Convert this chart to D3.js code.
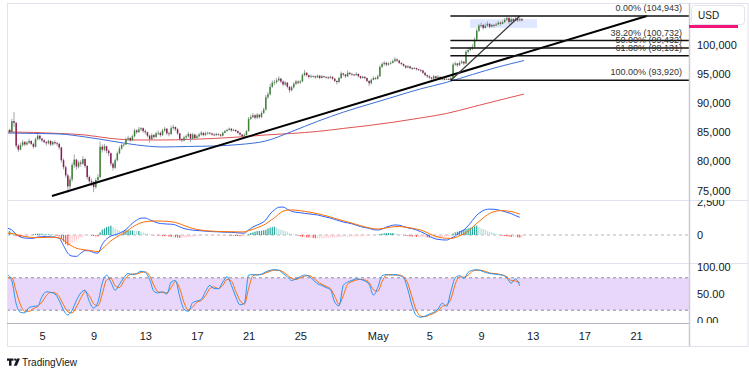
<!DOCTYPE html>
<html>
<head>
<meta charset="utf-8">
<script src="https://cdn.jsdelivr.net/npm/d3@7"></script>
<style>
  body { margin: 0; background: #fff; }
  svg { display: block; font-family: "Liberation Sans", Arial, sans-serif; }
</style>
</head>
<body>
<script>
// ---- data (BTC/USD 4H), prices in thousands ----
var startTime = Date.UTC(2025, 3, 2, 8), barHours = 4;
var firstOpen = 85.2;
var closes = [
  85.4,85.0,86.9,86.6,
  82.7,82.0,82.8,83.3,82.9,83.2,  83.5,83.0,82.5,83.8,84.4,83.9,  83.6,83.3,83.1,83.5,82.9,83.3,
  83.1,83.0,82.4,80.2,79.0,77.6,  75.7,76.9,79.4,80.3,79.1,79.8,  79.6,80.4,79.2,77.3,76.6,76.4,
  75.6,76.8,77.3,82.5,82.0,82.6,  81.8,81.4,79.6,78.9,80.2,81.4,  82.2,82.8,82.9,83.8,84.0,83.6,
  84.3,85.3,85.0,85.5,85.7,85.2,  85.0,84.4,83.8,84.5,84.2,84.8,  84.9,84.5,85.3,85.6,84.8,84.7,
  85.7,85.9,85.5,84.8,83.8,83.6,  84.1,84.3,84.7,83.9,84.6,84.0,  84.3,84.6,84.9,84.5,84.8,84.9,
  84.8,84.6,84.5,84.7,84.6,84.4,  84.9,85.2,85.4,85.6,85.3,85.4,  85.2,84.9,84.6,84.3,84.5,85.2,
  87.3,87.6,87.9,87.5,88.0,87.6,  88.3,88.9,91.0,91.5,92.8,93.5,  93.6,93.9,94.2,93.7,93.2,93.5,
  92.8,92.2,92.7,93.3,93.7,93.5,  93.7,94.8,95.2,94.8,94.5,94.6,  94.6,94.4,94.7,94.3,94.6,94.5,
  94.4,94.3,94.5,94.2,93.8,93.6,  94.3,95.1,94.9,94.6,95.2,95.0,  94.9,94.8,95.0,94.6,94.3,94.5,
  94.3,93.8,93.4,94.0,94.3,94.2,  94.6,96.2,96.7,96.9,96.6,96.8,  96.9,97.2,97.5,97.3,96.9,96.7,
  96.4,96.1,96.3,96.0,95.9,96.0,  95.8,95.7,95.6,95.2,94.8,94.6,  94.4,94.2,94.6,94.3,94.5,94.1,
  94.2,94.0,94.1,94.0,94.3,96.6,  96.8,96.5,96.9,97.1,96.8,98.8,  99.1,99.4,99.6,100.9,102.4,103.3,
  103.4,102.9,103.3,103.6,103.1,103.4,  103.3,103.5,103.8,103.6,103.9,104.3,  104.6,103.9,104.4,104.1,104.5,104.2,
  104.4,104.2
];
var highs = [
  85.8,85.6,87.3,88.5,
  86.8,83.0,83.2,83.7,83.5,83.5,  83.9,83.6,83.2,84.1,84.7,84.5,  84.0,83.8,83.5,83.7,83.6,83.5,
  83.6,83.4,83.2,82.5,80.5,79.3,  77.9,77.4,79.8,81.2,80.4,80.1,  80.2,80.9,80.5,79.4,77.6,77.0,
  76.6,77.1,77.8,83.4,82.9,83.0,  82.7,82.1,81.5,79.8,80.5,81.7,  82.6,83.1,83.3,84.1,84.4,84.2,
  84.6,85.6,85.5,85.9,85.9,85.8,  85.5,85.1,84.6,84.8,84.7,85.1,  85.3,85.1,85.6,85.9,85.7,85.1,
  86.1,86.3,86.0,85.7,84.9,84.0,  84.4,84.6,85.1,84.8,84.9,84.7,  84.6,84.9,85.2,85.0,85.1,85.1,
  85.0,84.9,84.8,84.9,84.8,84.7,  85.1,85.4,85.6,85.8,85.7,85.6,  85.5,85.3,85.0,84.7,84.8,85.4,
  87.6,88.0,88.3,88.1,88.3,88.1,  88.6,89.2,91.4,91.9,93.3,93.9,  94.0,94.3,94.6,94.3,93.9,93.8,
  93.6,92.9,93.0,93.6,94.0,93.9,  94.0,95.1,95.7,95.3,94.9,94.9,  94.8,94.7,94.9,94.8,94.8,94.7,
  94.6,94.6,94.7,94.6,94.3,93.9,  94.5,95.4,95.2,95.0,95.6,95.3,  95.2,95.0,95.3,95.1,94.7,94.7,
  94.6,94.4,93.9,94.2,94.6,94.5,  94.9,96.5,97.0,97.2,97.1,97.0,  97.2,97.5,97.9,97.7,97.4,97.0,
  96.8,96.5,96.5,96.4,96.2,96.2,  96.1,95.9,95.8,95.7,95.3,94.9,  94.8,94.5,94.8,94.7,94.8,94.6,
  94.4,94.3,94.3,94.3,94.5,96.9,  97.1,96.9,97.2,97.4,97.2,99.1,  99.5,99.7,100.1,101.3,102.8,103.6,
  103.8,103.6,103.7,104.0,103.7,103.6,  103.6,103.8,104.1,104.0,104.2,104.6,  104.943,104.8,104.7,104.6,104.8,104.6,
  104.7,104.6
];
var lows = [
  84.9,84.7,84.9,85.9,
  82.3,81.6,81.9,82.5,82.6,82.7,  83.0,82.8,82.2,82.4,83.6,83.6,  83.3,83.1,82.7,82.9,82.6,82.7,
  82.9,82.6,82.0,79.8,78.6,77.2,  74.6,75.2,76.5,78.9,78.6,78.8,  79.1,79.4,78.9,76.9,76.2,75.8,
  74.7,75.3,76.4,77.1,81.5,81.7,  81.4,80.9,79.2,78.4,78.7,80.0,  81.2,82.0,82.5,82.8,83.5,83.3,
  83.5,84.1,84.7,84.9,85.2,84.9,  84.6,84.1,83.2,83.6,83.9,84.0,  84.5,84.2,84.4,85.0,84.5,84.3,
  84.5,85.4,85.2,84.5,83.5,83.3,  83.4,83.8,84.1,83.3,83.7,83.8,  83.9,84.1,84.4,84.3,84.4,84.6,
  84.6,84.4,84.3,84.4,84.4,84.2,  84.3,84.8,85.1,85.3,85.1,85.2,  85.0,84.7,84.4,83.9,84.1,84.4,
  85.1,87.1,87.4,87.2,87.3,87.3,  87.4,88.1,88.7,90.7,91.3,92.6,  93.1,93.3,93.7,93.4,92.9,93.0,
  92.5,91.8,92.0,92.5,93.1,93.2,  93.3,93.6,94.6,94.5,94.2,94.3,  94.4,94.2,94.3,94.1,94.2,94.3,
  94.2,94.1,94.2,94.0,93.6,93.2,  93.5,94.1,94.6,94.3,94.5,94.8,  94.7,94.6,94.7,94.4,94.1,94.2,
  94.1,93.6,92.9,93.2,93.9,94.0,  94.0,94.5,96.0,96.4,96.3,96.4,  96.6,96.8,97.0,97.0,96.7,96.5,
  96.2,95.9,96.0,95.8,95.7,95.8,  95.6,95.5,95.3,95.0,94.6,94.3,  94.1,94.0,94.0,94.1,94.2,93.95,
  93.9,93.92,93.95,93.92,93.95,94.2,  96.4,96.2,96.4,96.7,96.5,96.7,  98.5,98.9,99.1,99.5,100.8,102.2,
  103.0,102.6,102.8,103.1,102.8,103.0,  103.0,103.2,103.3,103.3,103.5,103.7,  104.1,103.6,103.8,103.8,104.0,103.9,
  104.0,104.0
];

// moving averages, one value every 12 bars (thousands)
var maStep = 12;
var maBlue = [84.87,84.79,84.70,84.19,83.50,82.82,82.47,82.56,82.64,82.90,83.50,85.11,86.86,88.44,89.80,91.13,92.45,93.55,94.90,96.20,97.30];
var maRed  = [85.05,84.96,84.79,84.53,83.93,83.67,83.67,83.76,83.93,84.19,84.53,84.79,85.13,85.65,86.16,86.76,87.45,88.22,89.33,90.46,91.55];

// MACD and stochastic, one value every 2 bars
var oscStep = 2;
var macdLine = [520,380,50,-150,-230,-250,-250,-150,-130,-120,
  -130,-160,-250,-800,-1380,-1600,-1620,-1380,-1180,-1200,
  -1330,-1380,-700,-300,-80,20,130,300,560,900,
  1120,1280,1280,1160,1020,900,860,830,820,760,
  620,490,420,370,340,320,290,270,250,240,
  220,210,200,180,150,140,380,600,760,900,
  1140,1600,1900,2100,2120,1950,1800,1720,1690,1640,
  1600,1560,1520,1440,1360,1280,1180,1080,980,920,
  850,740,640,560,510,400,380,450,600,700,
  760,740,640,540,480,380,250,100,-100,-250,
  -330,-370,-380,-250,-80,200,380,700,1100,1500,
  1750,1920,1960,1950,1900,1820,1720,1620,1470,1340];
var signalLine = [150,120,50,-50,-110,-160,-200,-200,-190,-180,
  -170,-180,-220,-400,-650,-850,-1000,-1080,-1130,-1170,
  -1220,-1260,-1050,-750,-450,-220,-30,130,350,600,
  780,930,1000,1040,1060,1060,1050,1040,1010,950,
  850,720,600,500,420,370,330,300,280,270,
  260,250,250,240,230,240,330,430,560,680,
  850,1080,1300,1580,1800,1880,1900,1880,1840,1790,
  1740,1680,1610,1540,1450,1360,1270,1170,1080,990,
  900,800,710,620,540,470,450,480,540,600,
  630,640,610,570,510,440,380,250,100,-50,
  -150,-220,-250,-250,-200,-60,80,300,580,880,
  1150,1420,1640,1760,1840,1850,1820,1780,1690,1590];
// histogram per bar, in hundreds
var histogram = [3,3,2,1,
  -1,-1,-1.5,-1,-0.5,-0.5,-0.5,-0.5,
  0.5,1,1,1,1,0.5,0.5,0.5,0.3,0.3,
  -0.3,-0.5,-1,
  -3,-5,-7,-8,-7.5,-6,-5,-4,-3,-2,-1.5,
  -0.5,-0.5,-0.3,-0.5,-0.8,-1,-1.2,
  2,
  4,5,6,6.5,7,6,5,4,3.5,
  3,3,3.5,3.5,3.5,3.5,3.2,3,
  3,2.5,2,1.5,1,0.5,0,-0.3,
  -0.3,-0.5,-0.5,-0.8,-1,-1,-1.2,-1.5,-1.5,-1.8,-2,-2.2,-2.2,-2,-2,-1.5,-1.5,-1.3,
  -1,-0.8,-0.8,-0.6,-0.5,-0.5,-0.5,-0.4,-0.4,-0.3,-0.3,-0.3,-0.3,-0.3,-0.3,-0.3,-0.4,-0.5,-0.6,-0.7,
  -0.8,-1,-1,-0.8,-0.5,
  0.5,1.5,2,2.5,3,3,3.2,
  3.5,4,5,5.5,6,6.3,5.5,4.5,4,3.5,
  3,2.5,1.5,1,0.5,0,
  -0.5,-1,-1.5,-1.5,-1.8,-2,-2,-2.2,-2.5,-2.5,-2.5,-2.5,-2.5,-2.3,-2.2,-2,-2,-2,-1.8,-1.8,-1.6,-1.5,-1.5,-1.5,-1.3,-1.2,-1.2,-1,-1,-1,-0.8,-0.7,-0.6,-0.5,-0.4,
  -0.3,0,0.3,0.5,1,1.2,1.5,1.5,1.5,1.5,1.2,1,0.8,0.5,
  -0.3,-0.5,-0.8,-1,-1.2,-1.2,-1.5,-1.5,-1.5,-1.5,-1.5,-1.8,-2,-2,-2,-2,-2,-1.8,-1.5,-1.5,-1.2,-1,-0.5,
  1,2,2.5,3,3.5,4,4.5,5,5.5,6,6.5,7,
  6,5,4.5,4,3,2.5,2,1.5,1,0.5,
  -0.3,-0.5,-0.8,-1,-1.2,-1.5,-1.5,-1.5,-1.8,-2,-2];
var stochK = [86,74,32,16,15,25,27,28,45,54,
  53,50,38,20,11,20,38,52,57,36,
  24,35,70,85,72,57,68,80,88,86,
  88,92,90,77,55,52,54,50,72,75,
  45,22,18,34,37,40,55,66,60,60,
  72,82,66,45,30,33,85,86,85,87,
  91,94,95,94,88,82,75,78,82,85,
  83,76,69,66,62,58,35,28,66,72,
  75,78,77,74,68,48,62,84,86,85,
  86,84,80,58,28,10,7,9,13,16,
  22,33,27,55,80,84,79,90,94,95,
  93,90,88,87,86,85,80,70,78,65];
var stochD = [80,80,55,30,18,18,23,27,35,47,
  53,52,45,30,17,15,26,42,54,47,
  32,28,50,76,79,65,62,74,84,87,
  87,90,91,84,66,54,53,52,62,73,
  60,34,20,26,35,38,47,60,63,60,
  66,77,74,55,38,31,60,84,86,86,
  89,92,94,94,91,85,79,77,80,83,
  84,80,73,68,64,60,46,31,47,68,
  73,76,77,76,71,58,55,73,85,86,
  85,85,82,69,43,19,9,8,11,14,
  19,27,30,41,68,82,81,85,92,94,
  94,92,89,88,87,85,82,75,74,71];

// drawings
var fibLevels = ["0.00", "38.20", "50.00", "61.80", "100.00"];
var fibPrices = [104943, 100732, 99432, 98131, 93920];
var fibStart = "2025-05-06T15:00:00Z";
var longTrendTimes = ["2025-04-05T18:30:00Z", "2025-05-21T20:00:00Z"];
var longTrendPrices = [74070, 104943];
var shortTrendTimes = ["2025-05-06T16:00:00Z", "2025-05-12T00:00:00Z"];
var shortTrendPrices = [93920, 104943];
var boxTimes = ["2025-05-08T03:30:00Z", "2025-05-13T08:00:00Z"];
var boxPrices = [104400, 102900];

// axes
var priceTicks = [75000, 80000, 85000, 90000, 95000, 100000];
var macdTicks = [0, 2500];
var stochTicks = [0, 50, 100];
var tickDates = ["2025-04-05", "2025-04-09", "2025-04-13", "2025-04-17", "2025-04-21", "2025-04-25",
                 "2025-05-01", "2025-05-05", "2025-05-09", "2025-05-13", "2025-05-17", "2025-05-21"];
var tickLabels = ["5", "9", "13", "17", "21", "25", "May", "5", "9", "13", "17", "21"];

// ---- layout ----
var WIDTH = 749, HEIGHT = 375;
var LEFT = 7, RIGHT = 689, TOP = 4;
var MAIN_BOTTOM = 200, MACD_BOTTOM = 263, STOCH_BOTTOM = 323, AXIS_BOTTOM = 347;
var TEXT = "#131722", BORDER = "#e0e3eb";

var barTime = function(i){ return new Date(startTime + i * barHours * 3600e3); };

var _svg = d3.select("body").append("svg")
    .attr("width", WIDTH).attr("height", HEIGHT);

var _x = d3.scaleUtc()
    .domain([new Date(tickDates[0]), new Date(tickDates[tickDates.length - 1])])
    .range([42, 636]);
var _y = d3.scaleLinear().domain([75000, 100000]).range([190.5, 44.8]);
var _yMacd = d3.scaleLinear().domain([0, 2500]).range([235, 202]);
var _yStoch = d3.scaleLinear().domain([0, 100]).range([321, 267]);

var defs = _svg.append("defs");
var addClip = function(id, x0, y0, x1, y1){
  defs.append("clipPath").attr("id", id).append("rect")
      .attr("x", x0).attr("y", y0).attr("width", x1 - x0).attr("height", y1 - y0);
};
addClip("clipMain", LEFT, TOP, RIGHT, MAIN_BOTTOM);
addClip("clipMacd", LEFT, MAIN_BOTTOM, RIGHT, MACD_BOTTOM);
addClip("clipStoch", LEFT, MACD_BOTTOM, RIGHT, STOCH_BOTTOM);
addClip("clipMacdAxis", RIGHT, MAIN_BOTTOM, WIDTH, MACD_BOTTOM);
addClip("clipStochAxis", RIGHT, MACD_BOTTOM, WIDTH, STOCH_BOTTOM);

_svg.append("rect").attr("width", WIDTH).attr("height", HEIGHT).attr("fill", "#fff");

// ---- main pane ----
var main = _svg.append("g").attr("clip-path", "url(#clipMain)");

main.append("rect")
    .attr("x", _x(new Date(boxTimes[0])))
    .attr("y", _y(boxPrices[0]))
    .attr("width", _x(new Date(boxTimes[1])) - _x(new Date(boxTimes[0])))
    .attr("height", _y(boxPrices[1]) - _y(boxPrices[0]))
    .attr("fill", "#2962ff").attr("fill-opacity", 0.15);

var maLine = d3.line()
    .x(function(d, i){ return _x(barTime(i * maStep)); })
    .y(function(d){ return _y(d * 1000); })
    .curve(d3.curveMonotoneX);
main.append("path").attr("d", maLine(maRed)).attr("fill", "none").attr("stroke", "#e05252").attr("stroke-width", 1);
main.append("path").attr("d", maLine(maBlue)).attr("fill", "none").attr("stroke", "#3a6fd8").attr("stroke-width", 1);

var bars = closes.map(function(c, i){
  var o = i ? closes[i - 1] : firstOpen;
  return { t: barTime(i), o: o * 1000, c: c * 1000,
           h: Math.max(highs[i], o, c) * 1000, l: Math.min(lows[i], o, c) * 1000 };
});

var candles = main.append("g").selectAll("g").data(bars).enter().append("g");
candles.append("line")
    .attr("x1", function(d){ return _x(d.t); })
    .attr("x2", function(d){ return _x(d.t); })
    .attr("y1", function(d){ return _y(d.h); })
    .attr("y2", function(d){ return _y(d.l); })
    .attr("stroke", "#a3a6ae").attr("stroke-width", 1);
candles.append("rect")
    .attr("x", function(d){ return _x(d.t) - 0.75; })
    .attr("width", 1.5)
    .attr("y", function(d){ return _y(Math.max(d.o, d.c)); })
    .attr("height", function(d){ return Math.max(0.8, Math.abs(_y(d.o) - _y(d.c))); })
    .attr("fill", function(d){ return d.c >= d.o ? "#3f8436" : "#8c1c52"; });

// trend lines
var trend = function(times, prices, color, width){
  main.append("line")
      .attr("x1", _x(new Date(times[0]))).attr("y1", _y(prices[0]))
      .attr("x2", _x(new Date(times[1]))).attr("y2", _y(prices[1]))
      .attr("stroke", color).attr("stroke-width", width);
};
trend(longTrendTimes, longTrendPrices, "#000", 2);
trend(shortTrendTimes, shortTrendPrices, "#3c3c3c", 1.3);

// fibonacci
var fibG = main.append("g");
fibPrices.forEach(function(p, i){
  fibG.append("line")
      .attr("x1", _x(new Date(fibStart))).attr("x2", RIGHT)
      .attr("y1", _y(p)).attr("y2", _y(p))
      .attr("stroke", "#111").attr("stroke-width", 1.5);
  fibG.append("text")
      .attr("x", RIGHT - 7).attr("y", _y(p) - 5)
      .attr("text-anchor", "end")
      .attr("font-size", 9).attr("fill", "#333")
      .text(fibLevels[i] + "% (" + d3.format(",")(p) + ")");
});

// ---- MACD pane ----
var macdG = _svg.append("g").attr("clip-path", "url(#clipMacd)");
macdG.append("line")
    .attr("x1", LEFT).attr("x2", RIGHT).attr("y1", _yMacd(0)).attr("y2", _yMacd(0))
    .attr("stroke", "#b2b5be").attr("stroke-dasharray", "3,3");
macdG.append("g").selectAll("rect").data(histogram).enter().append("rect")
    .attr("x", function(d, i){ return _x(barTime(i)) - 0.6; })
    .attr("width", 1.2)
    .attr("y", function(d){ return Math.min(_yMacd(d * 100), _yMacd(0)); })
    .attr("height", function(d){ return Math.abs(_yMacd(d * 100) - _yMacd(0)); })
    .attr("fill", function(d, i){
      var prev = i ? histogram[i - 1] : d;
      if (d >= 0) return d >= prev ? "#26a69a" : "#b2dfdb";
      return d < prev ? "#ff5252" : "#ffcdd2";
    });
var oscLine = function(scale){
  return d3.line()
      .x(function(d, i){ return _x(barTime(i * oscStep)); })
      .y(function(d){ return scale(d); })
      .curve(d3.curveMonotoneX);
};
macdG.append("path").attr("d", oscLine(_yMacd)(macdLine)).attr("fill", "none").attr("stroke", "#2962ff").attr("stroke-width", 1);
macdG.append("path").attr("d", oscLine(_yMacd)(signalLine)).attr("fill", "none").attr("stroke", "#ff6d00").attr("stroke-width", 1);

// ---- Stochastic pane ----
var stG = _svg.append("g").attr("clip-path", "url(#clipStoch)");
stG.append("rect")
    .attr("x", LEFT).attr("width", RIGHT - LEFT)
    .attr("y", _yStoch(80)).attr("height", _yStoch(20) - _yStoch(80))
    .attr("fill", "#e9d6fb");
[80, 20].forEach(function(v){
  stG.append("line")
      .attr("x1", LEFT).attr("x2", RIGHT).attr("y1", _yStoch(v)).attr("y2", _yStoch(v))
      .attr("stroke", "#8a8d96").attr("stroke-dasharray", "3,3");
});
stG.append("path").attr("d", oscLine(_yStoch)(stochD)).attr("fill", "none").attr("stroke", "#ff6d00").attr("stroke-width", 1);
stG.append("path").attr("d", oscLine(_yStoch)(stochK)).attr("fill", "none").attr("stroke", "#2196f3").attr("stroke-width", 1);

// ---- frame ----
_svg.append("rect")
    .attr("x", LEFT + 0.5).attr("y", TOP - 0.5)
    .attr("width", WIDTH - LEFT - 1.5).attr("height", AXIS_BOTTOM - TOP)
    .attr("fill", "none").attr("stroke", BORDER);
[MAIN_BOTTOM, MACD_BOTTOM].forEach(function(yy){
  _svg.append("line").attr("x1", LEFT).attr("x2", WIDTH - 1)
      .attr("y1", yy + 0.5).attr("y2", yy + 0.5).attr("stroke", BORDER);
});
_svg.append("line").attr("x1", LEFT).attr("x2", RIGHT)
    .attr("y1", STOCH_BOTTOM + 0.5).attr("y2", STOCH_BOTTOM + 0.5).attr("stroke", "#b2b5be");
_svg.append("line").attr("x1", RIGHT + 0.5).attr("x2", RIGHT + 0.5)
    .attr("y1", TOP - 0.5).attr("y2", AXIS_BOTTOM - 0.5).attr("stroke", "#c9ccd3").attr("stroke-width", 1.5);

// ---- axes ----
var styleAxis = function(g){
  g.select(".domain").remove();
  g.selectAll("text").attr("font-size", 11).attr("fill", TEXT)
      .attr("font-family", "\"Liberation Sans\", Arial, sans-serif");
};
_svg.append("g").attr("transform", "translate(" + RIGHT + ",0)")
    .call(d3.axisRight(_y).tickValues(priceTicks).tickSize(0).tickPadding(8).tickFormat(d3.format(",")))
    .call(styleAxis);
_svg.append("g").attr("clip-path", "url(#clipMacdAxis)")
  .append("g").attr("transform", "translate(" + RIGHT + ",0)")
    .call(d3.axisRight(_yMacd).tickValues(macdTicks).tickSize(0).tickPadding(8).tickFormat(d3.format(",")))
    .call(styleAxis);
_svg.append("g").attr("clip-path", "url(#clipStochAxis)")
  .append("g").attr("transform", "translate(" + RIGHT + ",0)")
    .call(d3.axisRight(_yStoch).tickValues(stochTicks).tickSize(0).tickPadding(8).tickFormat(d3.format(".2f")))
    .call(styleAxis);
_svg.append("g").attr("transform", "translate(0," + STOCH_BOTTOM + ")")
    .call(d3.axisBottom(_x).tickValues(tickDates.map(function(d){ return new Date(d); }))
      .tickSize(0).tickPadding(9).tickFormat(function(d, i){ return tickLabels[i]; }))
    .call(styleAxis);

// last price marker and currency box
_svg.append("rect").attr("x", RIGHT).attr("y", 25).attr("width", 49).attr("height", 3).attr("fill", "#f2167c");
_svg.append("rect").attr("x", RIGHT + 2.5).attr("y", 5.5).attr("width", 53).attr("height", 19).attr("rx", 3)
    .attr("fill", "#fff").attr("stroke", BORDER);
_svg.append("text").attr("x", RIGHT + 9).attr("y", 18.5).attr("font-size", 10).attr("fill", TEXT).text("USD");

// branding
var logo = _svg.append("g").attr("fill", TEXT);
logo.append("path").attr("d", "M7,358.5h6.5v2.3h-2v5h-2.5v-5h-2z");
logo.append("circle").attr("cx", 15.3).attr("cy", 359.6).attr("r", 1.2);
logo.append("path").attr("d", "M17,358.5h3l-3.2,7.3h-3z");
_svg.append("text").attr("x", 22).attr("y", 365.5).attr("font-size", 10).attr("fill", TEXT).text("TradingView");
</script>
</body>
</html>
